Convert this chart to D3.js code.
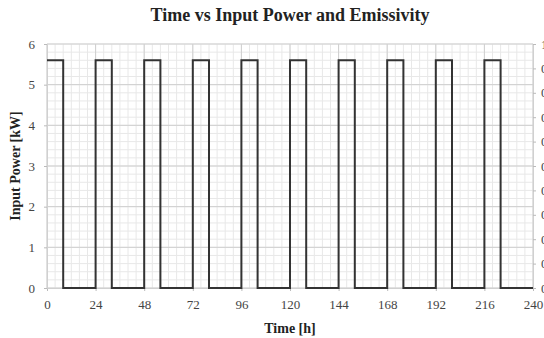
<!DOCTYPE html>
<html>
<head>
<meta charset="utf-8">
<script src="https://cdn.jsdelivr.net/npm/d3@7"></script>
<style>
  html, body { margin: 0; padding: 0; background: #fff; }
  svg { display: block; font-family: "Liberation Serif", "DejaVu Serif", serif; }
</style>
</head>
<body>
<div id="chart"></div>
<script>
// Step series: heater on 8 h, off 16 h, every 24 h
const timeH = [0, 8, 8, 24, 24, 32, 32, 48, 48, 56, 56, 72, 72, 80, 80, 96, 96, 104, 104, 120,
  120, 128, 128, 144, 144, 152, 152, 168, 168, 176, 176, 192, 192, 200, 200, 216, 216, 224, 224, 240];
const powerKW = [5.6, 5.6, 0, 0, 5.6, 5.6, 0, 0, 5.6, 5.6, 0, 0, 5.6, 5.6, 0, 0, 5.6, 5.6, 0, 0,
  5.6, 5.6, 0, 0, 5.6, 5.6, 0, 0, 5.6, 5.6, 0, 0, 5.6, 5.6, 0, 0, 5.6, 5.6, 0, 0];

const xTicks = [0, 24, 48, 72, 96, 120, 144, 168, 192, 216, 240];
const yTicks = [0, 1, 2, 3, 4, 5, 6];
const emissivityTicks = [0, 0.1, 0.2, 0.3, 0.4, 0.5, 0.6, 0.7, 0.8, 0.9, 1];

const width = 544, height = 338;
const margin = { top: 44, right: 11, bottom: 50, left: 47 };
const innerW = width - margin.left - margin.right;
const innerH = height - margin.top - margin.bottom;

const svg = d3.select('#chart').append('svg')
  .attr('width', width)
  .attr('height', height);

const g = svg.append('g')
  .attr('transform', `translate(${margin.left},${margin.top})`);

const x = d3.scaleLinear().domain([0, 240]).range([0, innerW]);
const y = d3.scaleLinear().domain([0, 6]).range([innerH, 0]);
const y2 = d3.scaleLinear().domain([0, 1]).range([innerH, 0]);

// minor grid: 4 h and 0.2 kW
g.append('g').selectAll('line')
  .data(d3.range(0, 241, 4))
  .join('line')
  .attr('x1', d => x(d)).attr('x2', d => x(d))
  .attr('y1', 0).attr('y2', innerH)
  .attr('stroke', '#e8e8e8').attr('stroke-width', 1);

g.append('g').selectAll('line')
  .data(d3.range(0, 31).map(d => d / 5))
  .join('line')
  .attr('x1', 0).attr('x2', innerW)
  .attr('y1', d => y(d)).attr('y2', d => y(d))
  .attr('stroke', '#e8e8e8').attr('stroke-width', 1);

// major grid
g.append('g').selectAll('line')
  .data(xTicks)
  .join('line')
  .attr('x1', d => x(d)).attr('x2', d => x(d))
  .attr('y1', 0).attr('y2', innerH)
  .attr('stroke', '#cfcfcf').attr('stroke-width', 1);

g.append('g').selectAll('line')
  .data(yTicks)
  .join('line')
  .attr('x1', 0).attr('x2', innerW)
  .attr('y1', d => y(d)).attr('y2', d => y(d))
  .attr('stroke', '#cfcfcf').attr('stroke-width', 1);

// axes
const styleAxis = sel => {
  sel.select('.domain').attr('stroke', '#d0d0d0');
  sel.selectAll('.tick line').attr('stroke', '#bbb');
  sel.selectAll('.tick text')
    .attr('fill', '#444')
    .style('font-family', '"Liberation Serif", serif')
    .style('font-size', '13px');
};

g.append('g')
  .attr('transform', `translate(0,${innerH})`)
  .call(d3.axisBottom(x).tickValues(xTicks).tickSize(3).tickPadding(9))
  .call(styleAxis);

g.append('g')
  .call(d3.axisLeft(y).tickValues(yTicks).tickFormat(d3.format('d')).tickSize(3).tickPadding(9))
  .call(styleAxis);

// secondary (emissivity) axis, its labels run off the right edge as in the picture
g.append('g')
  .attr('transform', `translate(${innerW},0)`)
  .call(d3.axisRight(y2).tickValues(emissivityTicks).tickSize(3).tickPadding(5))
  .call(styleAxis);

// power series
const line = d3.line()
  .x((d, i) => x(timeH[i]))
  .y(d => y(d));

g.append('path')
  .datum(powerKW)
  .attr('d', line)
  .attr('fill', 'none')
  .attr('stroke', '#333')
  .attr('stroke-width', 2);

// titles
svg.append('text')
  .attr('x', margin.left + innerW / 2)
  .attr('y', 21)
  .attr('text-anchor', 'middle')
  .style('font-size', '18px')
  .style('font-weight', 'bold')
  .attr('fill', '#222')
  .text('Time vs Input Power and Emissivity');

svg.append('text')
  .attr('x', margin.left + innerW / 2)
  .attr('y', 333)
  .attr('text-anchor', 'middle')
  .style('font-size', '14px')
  .style('font-weight', 'bold')
  .attr('fill', '#222')
  .text('Time [h]');

svg.append('text')
  .attr('transform', `translate(20,${margin.top + innerH / 2}) rotate(-90)`)
  .attr('text-anchor', 'middle')
  .style('font-size', '14px')
  .style('font-weight', 'bold')
  .attr('fill', '#222')
  .text('Input Power [kW]');
</script>
</body>
</html>
